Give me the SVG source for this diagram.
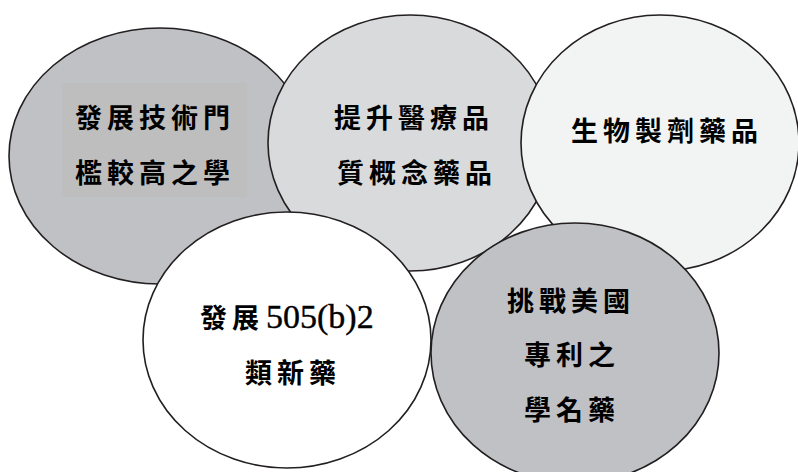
<svg xmlns="http://www.w3.org/2000/svg" width="798" height="472" viewBox="0 0 798 472">
<style>
.e{stroke:#231f20;stroke-width:1.6}
.t{font-family:"Liberation Serif","Noto Sans CJK TC",serif;font-size:27px;font-weight:bold;fill:#000;letter-spacing:5px}
.n{font-family:"Liberation Serif",serif;font-size:34px;font-weight:normal;letter-spacing:0;stroke:#000;stroke-width:0.4}
</style>
<rect width="798" height="472" fill="#fff"/>
<g id="node1">
<ellipse class="e" cx="160" cy="156" rx="151" ry="128" fill="#c0c1c5"/>
<rect x="62" y="83" width="185" height="114" fill="#bebebf"/>
<text class="t" x="75" y="128">發展技術門</text>
<text class="t" x="75" y="183">檻較高之學</text>
</g>
<g id="node2">
<ellipse class="e" cx="410" cy="143" rx="142" ry="128" fill="#d9dadc"/>
<text class="t" x="334" y="128">提升醫療品</text>
<text class="t" x="337" y="183">質概念藥品</text>
</g>
<g id="node3">
<ellipse class="e" cx="660" cy="143" rx="139" ry="128" fill="#f2f3f3"/>
<text class="t" x="571" y="141">生物製劑藥品</text>
</g>
<g id="node4">
<ellipse class="e" cx="287" cy="340" rx="144" ry="128" fill="#fff"/>
<text class="t" x="200" y="328">發展<tspan class="n" dx="2">505(b)2</tspan></text>
<text class="t" x="245" y="383">類新藥</text>
</g>
<g id="node5">
<ellipse class="e" cx="575" cy="353" rx="144" ry="130" fill="#c0c1c5"/>
<text class="t" x="507" y="311">挑戰美國</text>
<text class="t" x="524" y="365">專利之</text>
<text class="t" x="524" y="420">學名藥</text>
</g>
</svg>
